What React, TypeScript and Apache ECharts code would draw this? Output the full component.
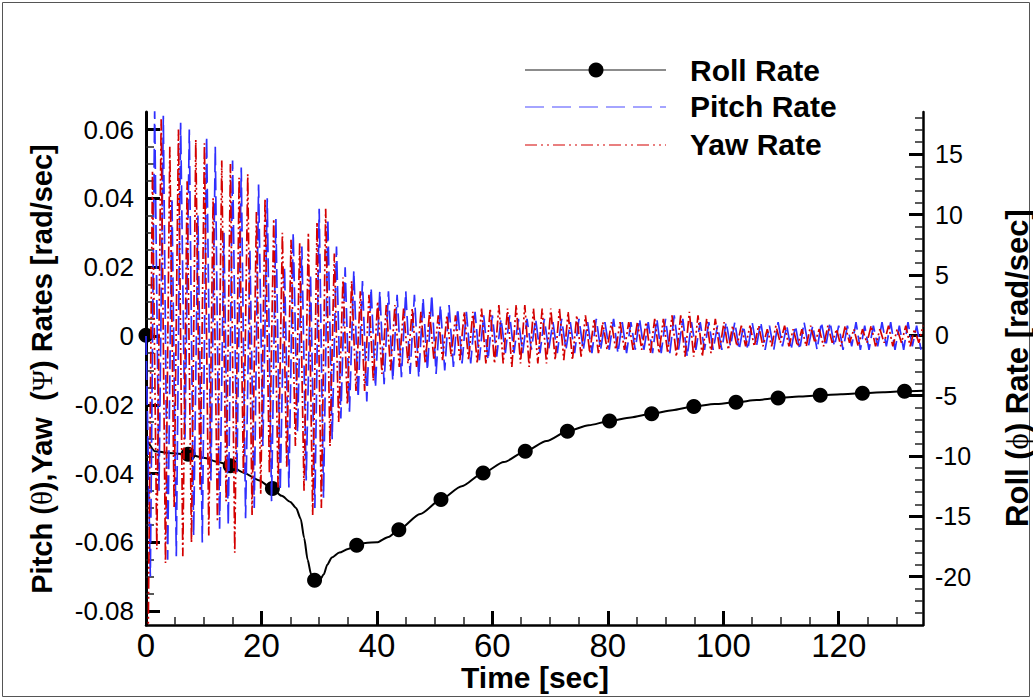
import { useEffect, useRef } from "react";
import * as echarts from "echarts";

const FONT = "'Liberation Sans', Arial, Helvetica, sans-serif";
const GREEK = "'Liberation Serif', 'DejaVu Serif', serif";

// time step of the sampled pitch / yaw rate records [sec]
const rateStep = 0.75;

// Pitch rate [rad/sec], one value per rateStep starting at t = 0
const pitchRate = [
  0, -0.07, 0.066, -0.045, 0.064, -0.065, 0.04, -0.064, 0.062, -0.03,
  0.06, -0.058, 0.035, -0.06, 0.058, -0.042, 0.055, -0.056, 0.03, -0.055,
  0.051, -0.04, 0.049, -0.053, 0.025, -0.05, 0.044, -0.032, 0.04, -0.048,
  0.034, -0.045, 0.02, -0.044, 0.03, -0.028, 0.026, -0.042, 0.018, -0.05,
  0.037, -0.047, 0.034, -0.03, 0.026, -0.024, 0.02, -0.022, 0.019, -0.018,
  0.016, -0.019, 0.014, -0.015, 0.013, -0.014, 0.013, -0.013, 0.012, -0.012,
  0.013, -0.011, 0.012, -0.012, 0.011, -0.01, 0.012, -0.011, 0.009, -0.01,
  0.009, -0.009, 0.008, -0.008, 0.007, -0.008, 0.007, -0.007, 0.006, -0.007,
  0.006, -0.006, 0.005, -0.005, 0.006, -0.005, 0.005, -0.005, 0.005, -0.004,
  0.005, -0.005, 0.005, -0.004, 0.004, -0.005, 0.005, -0.004, 0.004, -0.005,
  0.005, -0.004, 0.004, -0.005, 0.005, -0.004, 0.004, -0.004, 0.005, -0.005,
  0.004, -0.005, 0.004, -0.004, 0.005, -0.004, 0.004, -0.005, 0.005, -0.005,
  0.005, -0.005, 0.006, -0.004, 0.005, -0.006, 0.004, -0.004, 0.004, -0.004,
  0.004, -0.004, 0.003, -0.004, 0.004, -0.003, 0.004, -0.004, 0.003, -0.004,
  0.004, -0.003, 0.004, -0.004, 0.003, -0.004, 0.004, -0.003, 0.003, -0.004,
  0.003, -0.004, 0.004, -0.003, 0.003, -0.004, 0.004, -0.003, 0.004, -0.003,
  0.003, -0.004, 0.003, -0.003, 0.004, -0.004, 0.003, -0.004, 0.003, -0.003,
  0.004, -0.003, 0.004, -0.004, 0.003, -0.004, 0.004, -0.003, 0.003, -0.004,
];

// Yaw rate [rad/sec], one value per rateStep starting at t = rateStep / 2
const yawRate = [
  -0.088, 0.048, -0.062, 0.063, -0.066, 0.055, -0.05, 0.06, -0.064, 0.045,
  -0.06, 0.057, -0.045, 0.056, -0.058, 0.04, -0.054, 0.051, -0.048, 0.05,
  -0.063, 0.046, -0.04, 0.047, -0.052, 0.036, -0.046, 0.04, -0.04, 0.034,
  -0.044, 0.03, -0.038, 0.028, -0.032, 0.027, -0.045, 0.03, -0.052, 0.033,
  -0.05, 0.037, -0.032, 0.024, -0.025, 0.017, -0.02, 0.016, -0.016, 0.013,
  -0.016, 0.012, -0.013, 0.01, -0.011, 0.009, -0.01, 0.009, -0.009, 0.008,
  -0.008, 0.008, -0.009, 0.007, -0.008, 0.007, -0.007, 0.006, -0.007, 0.006,
  -0.006, 0.006, -0.007, 0.007, -0.007, 0.007, -0.008, 0.008, -0.008, 0.008,
  -0.008, 0.009, -0.008, 0.008, -0.009, 0.009, -0.008, 0.009, -0.009, 0.008,
  -0.008, 0.008, -0.008, 0.008, -0.007, 0.008, -0.007, 0.007, -0.007, 0.006,
  -0.006, 0.006, -0.005, 0.005, -0.005, 0.004, -0.004, 0.004, -0.004, 0.004,
  -0.004, 0.004, -0.004, 0.004, -0.004, 0.004, -0.005, 0.005, -0.005, 0.005,
  -0.005, 0.006, -0.006, 0.006, -0.006, 0.007, -0.006, 0.006, -0.006, 0.005,
  -0.005, 0.005, -0.004, 0.004, -0.004, 0.003, -0.003, 0.003, -0.003, 0.003,
  -0.003, 0.003, -0.003, 0.002, -0.003, 0.003, -0.002, 0.003, -0.003, 0.002,
  -0.003, 0.002, -0.003, 0.003, -0.002, 0.002, -0.003, 0.003, -0.002, 0.002,
  -0.003, 0.003, -0.002, 0.002, -0.003, 0.002, -0.002, 0.003, -0.003, 0.002,
  -0.002, 0.003, -0.003, 0.002, -0.002, 0.003, -0.003, 0.002, -0.002, 0.003,
];

// Roll rate curve [sec], [rad/sec]
const rollTime = [
  0, 0.15, 1.5, 4, 7.3, 10, 12.5, 14.6, 17, 19.5, 21.9, 23.5, 25, 26, 26.8,
  27.4, 28, 28.6, 29.2, 30.2, 30.8, 31.4, 32.2, 33.5, 35, 36.5, 38, 40, 42,
  43.8, 47.5, 51.1, 54.7, 58.4, 62, 65.7, 69.4, 73, 76.7, 80.3, 84, 87.6,
  91.2, 94.9, 98.5, 102.2, 105.8, 109.5, 113.1, 116.8, 120.4, 124.1, 127.7,
  131.4, 134.6,
];
const rollRate = [
  0, -8.8, -9.6, -9.75, -9.86, -10.15, -10.5, -10.8, -11.4, -12.0, -12.7,
  -13.3, -13.8, -14.3, -15.2, -16.8, -18.6, -19.8, -20.3, -20.2, -19.8, -19.0,
  -18.4, -18.0, -17.7, -17.4, -17.2, -17.15, -16.7, -16.1, -14.8, -13.6,
  -12.5, -11.4, -10.5, -9.6, -8.75, -7.95, -7.45, -7.1, -6.8, -6.5, -6.2,
  -5.9, -5.7, -5.55, -5.37, -5.2, -5.08, -4.97, -4.88, -4.8, -4.72, -4.64,
  -4.6,
];

// Roll rate symbols
const markerTime = [
  0, 7.3, 14.6, 21.9, 29.2, 36.5, 43.8, 51.1, 58.4, 65.7, 73, 80.3, 87.6,
  94.9, 102.2, 109.5, 116.8, 124.1, 131.4,
];
const markerRoll = [
  0, -9.86, -10.8, -12.7, -20.3, -17.4, -16.1, -13.6, -11.4, -9.6, -7.95,
  -7.1, -6.5, -5.9, -5.55, -5.2, -4.97, -4.8, -4.64,
];

// axes
const timeMin = 0;
const timeMax = 134.6;
const timeTicks = [0, 20, 40, 60, 80, 100, 120];
const timeMinorTicks = [
  5, 10, 15, 25, 30, 35, 45, 50, 55, 65, 70, 75, 85, 90, 95, 105, 110, 115,
  125, 130,
];
const pyMin = -0.084;
const pyMax = 0.0651;
const pyTicks = [-0.08, -0.06, -0.04, -0.02, 0, 0.02, 0.04, 0.06];
const pyMinorTicks = [
  -0.075, -0.07, -0.065, -0.055, -0.05, -0.045, -0.035, -0.03, -0.025,
  -0.015, -0.01, -0.005, 0.005, 0.01, 0.015, 0.025, 0.03, 0.035, 0.045, 0.05,
  0.055,
];
const rollMin = -24;
const rollMax = 18.5;
const rollTicks = [-20, -15, -10, -5, 0, 5, 10, 15];
const rollMinorTicks = [
  -23, -22, -21, -19, -18, -17, -16, -14, -13, -12, -11, -9, -8, -7, -6, -4,
  -3, -2, -1, 1, 2, 3, 4, 6, 7, 8, 9, 11, 12, 13, 14, 16, 17, 18,
];

const legendNames = ["Roll Rate", "Pitch Rate", "Yaw Rate"];

const PITCH_COLOR = "#2f2fff";
const YAW_COLOR = "#d40000";

function minorAxis(extra: any) {
  return {
    type: "value",
    splitLine: { show: false },
    minorTick: { show: false },
    ...extra,
  };
}

export default function App() {
  const ref = useRef<HTMLDivElement>(null);

  useEffect(() => {
    if (!ref.current) return;
    const chart = echarts.init(ref.current, null, { renderer: "svg" });

    const axisLineStyle = { color: "#000", width: 2.5 };
    const minorTickStyle = { color: "#222", width: 1.5 };
    const majorTickStyle = { color: "#000", width: 3 };

    const option: any = {
      animation: false,
      backgroundColor: "#ffffff",
      grid: {
        left: 146,
        right: 110,
        top: 112,
        bottom: 75,
        containLabel: false,
        outerBoundsMode: "none",
      },
      xAxis: [
        minorAxis({
          min: timeMin,
          max: timeMax,
          position: "bottom",
          axisLine: { show: true, onZero: false, lineStyle: axisLineStyle },
          axisTick: {
            show: true,
            inside: true,
            length: 8,
            customValues: timeMinorTicks,
            lineStyle: minorTickStyle,
          },
          axisLabel: {
            show: true,
            customValues: timeTicks,
            margin: 4,
            fontSize: 33,
            color: "#000",
            fontFamily: FONT,
          },
        }),
        minorAxis({
          min: timeMin,
          max: timeMax,
          position: "bottom",
          axisLine: { show: false, onZero: false },
          axisTick: {
            show: true,
            inside: true,
            length: 14,
            customValues: timeTicks,
            lineStyle: majorTickStyle,
          },
          axisLabel: { show: false },
        }),
      ],
      yAxis: [
        minorAxis({
          min: pyMin,
          max: pyMax,
          position: "left",
          axisLine: { show: true, onZero: false, lineStyle: { color: "#000", width: 3 } },
          axisTick: {
            show: true,
            inside: true,
            length: 8,
            customValues: pyMinorTicks,
            lineStyle: minorTickStyle,
          },
          axisLabel: {
            show: true,
            customValues: pyTicks,
            margin: 12,
            fontSize: 26,
            color: "#000",
            fontFamily: FONT,
          },
        }),
        minorAxis({
          min: pyMin,
          max: pyMax,
          position: "left",
          offset: 0,
          axisLine: { show: false, onZero: false },
          axisTick: {
            show: true,
            inside: true,
            length: 14,
            customValues: pyTicks,
            lineStyle: majorTickStyle,
          },
          axisLabel: { show: false },
        }),
        minorAxis({
          min: rollMin,
          max: rollMax,
          position: "right",
          offset: 0,
          axisLine: { show: true, onZero: false, lineStyle: axisLineStyle },
          axisTick: {
            show: true,
            inside: true,
            length: 8,
            customValues: rollMinorTicks,
            lineStyle: minorTickStyle,
          },
          axisLabel: {
            show: true,
            customValues: rollTicks,
            margin: 12,
            fontSize: 25,
            color: "#000",
            fontFamily: FONT,
          },
        }),
        minorAxis({
          min: rollMin,
          max: rollMax,
          position: "right",
          offset: 0,
          axisLine: { show: false, onZero: false },
          axisTick: {
            show: true,
            inside: true,
            length: 14,
            customValues: rollTicks,
            lineStyle: majorTickStyle,
          },
          axisLabel: { show: false },
        }),
      ],
      series: [
        {
          name: legendNames[0],
          type: "line",
          xAxisIndex: 0,
          yAxisIndex: 2,
          data: rollTime.map((t, i) => [t, rollRate[i]]),
          showSymbol: false,
          smooth: 0.25,
          smoothMonotone: "x",
          lineStyle: { color: "#000", width: 2 },
          silent: true,
        },
        {
          name: legendNames[0] + " symbols",
          type: "scatter",
          xAxisIndex: 0,
          yAxisIndex: 2,
          data: markerTime.map((t, i) => [t, markerRoll[i]]),
          symbol: "circle",
          symbolSize: 15,
          itemStyle: { color: "#000", opacity: 1 },
          silent: true,
        },
        {
          name: legendNames[1],
          type: "line",
          xAxisIndex: 0,
          yAxisIndex: 0,
          data: pitchRate.map((v, i) => [i * rateStep, v]),
          showSymbol: false,
          lineStyle: { color: PITCH_COLOR, width: 1.7, type: [19, 6] },
          silent: true,
        },
        {
          name: legendNames[2],
          type: "line",
          xAxisIndex: 0,
          yAxisIndex: 0,
          data: yawRate.map((v, i) => [i * rateStep + rateStep / 2, v]),
          showSymbol: false,
          lineStyle: { color: YAW_COLOR, width: 1.7, type: [12, 3, 2, 3, 2, 3] },
          silent: true,
        },
      ],
      graphic: [
        {
          type: "rect",
          silent: true,
          shape: { x: 2.5, y: 2.5, width: 1027, height: 694 },
          style: { fill: "none", stroke: "#555", lineWidth: 1 },
        },
        // legend
        {
          type: "line",
          silent: true,
          shape: { x1: 525, y1: 70, x2: 666, y2: 70 },
          style: { stroke: "#666", lineWidth: 1.4 },
        },
        {
          type: "circle",
          silent: true,
          shape: { cx: 596, cy: 70, r: 7.5 },
          style: { fill: "#000" },
        },
        {
          type: "line",
          silent: true,
          shape: { x1: 525, y1: 107, x2: 666, y2: 107 },
          style: { stroke: "#4a4aff", lineWidth: 1.2, lineDash: [19, 8] },
        },
        {
          type: "line",
          silent: true,
          shape: { x1: 525, y1: 145, x2: 666, y2: 145 },
          style: { stroke: YAW_COLOR, lineWidth: 1.2, lineDash: [12, 4, 2, 4, 2, 4] },
        },
        ...legendNames.map((name, i) => ({
          type: "text",
          silent: true,
          x: 690,
          y: [70, 106, 144][i],
          style: {
            text: name,
            fontSize: 30,
            fontWeight: "bold",
            fontFamily: FONT,
            fill: "#000",
            align: "left",
            verticalAlign: "middle",
          },
        })),
        // axis titles
        {
          type: "text",
          silent: true,
          x: 535,
          y: 677,
          style: {
            text: "Time [sec]",
            fontSize: 30,
            fontWeight: "bold",
            fontFamily: FONT,
            fill: "#000",
            align: "center",
            verticalAlign: "middle",
          },
        },
        {
          type: "text",
          silent: true,
          x: 42,
          y: 369,
          rotation: Math.PI / 2,
          style: {
            text: "Pitch ({g|θ}),Yaw  ({g|Ψ}) Rates [rad/sec]",
            fontSize: 29,
            fontWeight: "bold",
            fontFamily: FONT,
            fill: "#000",
            align: "center",
            verticalAlign: "middle",
            rich: {
              g: {
                fontSize: 29,
                fontWeight: "normal",
                fontFamily: GREEK,
                fill: "#000",
              },
            },
          },
        },
        {
          type: "text",
          silent: true,
          x: 1017,
          y: 368,
          rotation: Math.PI / 2,
          style: {
            text: "Roll ({g|ϕ}) Rate [rad/sec]",
            fontSize: 31,
            fontWeight: "bold",
            fontFamily: FONT,
            fill: "#000",
            align: "center",
            verticalAlign: "middle",
            rich: {
              g: {
                fontSize: 31,
                fontWeight: "normal",
                fontFamily: GREEK,
                fill: "#000",
              },
            },
          },
        },
      ],
    };

    chart.setOption(option);
    return () => {
      chart.dispose();
    };
  }, []);

  return (
    <div
      ref={ref}
      style={{
        position: "fixed",
        left: 0,
        top: 0,
        width: 1033,
        height: 700,
        background: "#fff",
      }}
    />
  );
}
